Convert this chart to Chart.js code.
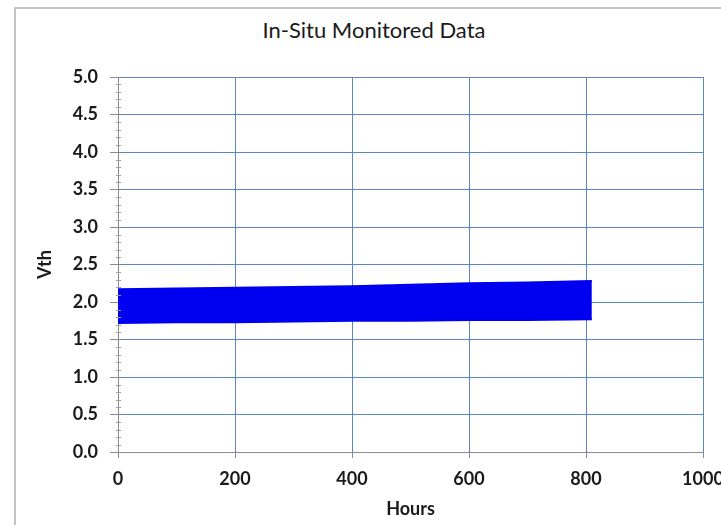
<!DOCTYPE html>
<html>
<head>
<meta charset="utf-8">
<script src="https://cdn.jsdelivr.net/npm/chart.js@4/dist/chart.umd.min.js"></script>
<style>
  html, body { margin: 0; padding: 0; background: #fff; overflow: hidden; }
  #frame { position: absolute; left: 14px; top: 7px; width: 760px; height: 600px; border: 2px solid #c4c4c4; }
  #title { position: absolute; left: 0; width: 748px; top: 16px; text-align: center;
           font: 22px Lato, sans-serif; color: #1a1a1a; }
  #wrap { position: absolute; left: 0; top: 0; width: 721px; height: 525px; }
</style>
</head>
<body>
<div id="frame"></div>
<div id="title">In-Situ Monitored Data</div>
<div id="wrap"><canvas id="chart"></canvas></div>
<script>
// envelope of the monitored Vth trace (upper / lower edge of the band)
const hours = [0, 100, 200, 300, 400, 500, 600, 700, 810];
const vthUpper = [2.17, 2.18, 2.19, 2.20, 2.21, 2.23, 2.25, 2.26, 2.28];
const vthLower = [1.72, 1.73, 1.73, 1.74, 1.75, 1.75, 1.76, 1.76, 1.77];

const xTicks = [0, 200, 400, 600, 800, 1000];
const yTicks = [0, 0.5, 1, 1.5, 2, 2.5, 3, 3.5, 4, 4.5, 5];

const blue = "#0000f0";
const gridBlue = "#5b86bd";

// small ticks every 0.1 on the Vth axis
const minorTicks = {
  id: "minorTicks",
  afterDraw(chart) {
    const y = chart.scales.y;
    const ctx = chart.ctx;
    ctx.save();
    ctx.strokeStyle = "#a0a0a0";
    ctx.lineWidth = 1;
    for (let i = 0; i <= 50; i++) {
      if (i % 5 === 0) continue;
      const py = Math.round(y.getPixelForValue(i / 10)) + 0.5;
      ctx.beginPath();
      ctx.moveTo(y.right - 2, py);
      ctx.lineTo(y.right + 3, py);
      ctx.stroke();
    }
    ctx.restore();
  }
};

const tickFont = { family: "Lato, sans-serif", size: 18, weight: "bold" };

new Chart(document.getElementById("chart"), {
  type: "line",
  data: {
    datasets: [
      {
        label: "upper",
        data: hours.map((h, i) => ({ x: h, y: vthUpper[i] })),
        borderColor: blue,
        borderWidth: 2,
        pointRadius: 0,
        fill: false
      },
      {
        label: "lower",
        data: hours.map((h, i) => ({ x: h, y: vthLower[i] })),
        borderColor: blue,
        borderWidth: 2,
        backgroundColor: blue,
        pointRadius: 0,
        fill: "-1"
      }
    ]
  },
  options: {
    responsive: true,
    maintainAspectRatio: false,
    animation: false,
    layout: { padding: { left: 0, right: 18, top: 77, bottom: 0 } },
    plugins: {
      legend: { display: false },
      tooltip: { enabled: false },
      title: { display: false }
    },
    scales: {
      x: {
        type: "linear",
        min: 0,
        max: 1000,
        afterBuildTicks: s => { s.ticks = xTicks.map(v => ({ value: v })); },
        grid: { color: gridBlue, tickColor: "#8c8c8c", tickLength: 6 },
        border: { color: "#8c8c8c" },
        ticks: { font: tickFont, color: "#1a1a1a", padding: 10, maxRotation: 0, callback: v => String(v) },
        title: {
          display: true,
          text: "Hours",
          font: { family: "Lato, sans-serif", size: 18, weight: "bold" },
          color: "#1a1a1a",
          padding: { top: 0, bottom: 5 }
        },
        afterFit: s => { s.height = 73; s.paddingLeft = 0; s.paddingRight = 0; }
      },
      y: {
        min: 0,
        max: 5,
        afterBuildTicks: s => { s.ticks = yTicks.map(v => ({ value: v })); },
        grid: { color: gridBlue, tickColor: "#8c8c8c", tickLength: 8 },
        border: { color: "#8c8c8c" },
        ticks: {
          font: tickFont,
          color: "#1a1a1a",
          padding: 12,
          callback: v => v.toFixed(1)
        },
        title: {
          display: true,
          text: "Vth",
          font: { family: "Lato, sans-serif", size: 18, weight: "bold" },
          color: "#1a1a1a",
          padding: { top: 34, bottom: 0 }
        },
        afterFit: s => { s.width = 118; s.paddingTop = 0; s.paddingBottom = 0; }
      }
    }
  },
  plugins: [minorTicks]
});
</script>
</body>
</html>
